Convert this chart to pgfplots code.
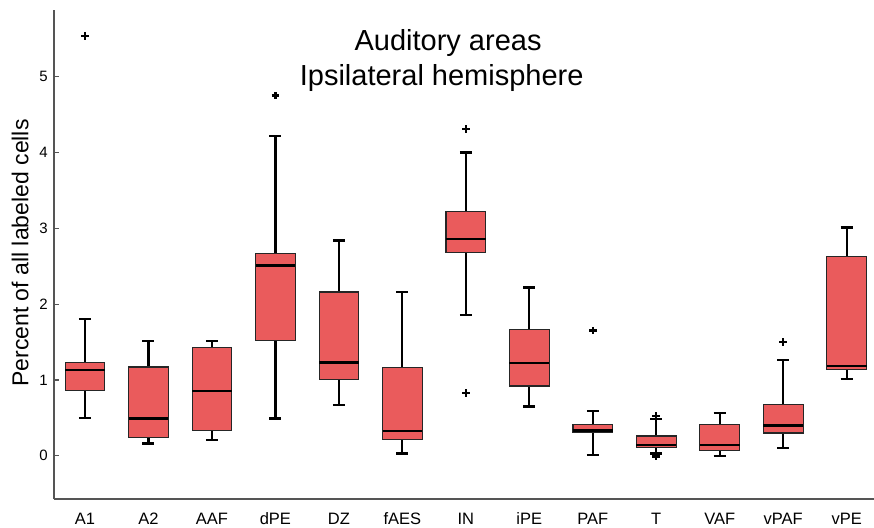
\documentclass[border=0pt]{standalone}
\usepackage{fontspec}
\setmainfont{Liberation Sans}
\usepackage{pgfplots}
\pgfplotsset{compat=1.18}
\usepgfplotslibrary{statistics}
\definecolor{boxred}{RGB}{234,91,92}
\definecolor{spine}{RGB}{85,85,85}

\begin{document}
\begin{tikzpicture}
\path[use as bounding box] (-54pt,-28pt) rectangle (820pt,499pt);
\begin{axis}[
  scale only axis, width=820pt, height=489pt,
  xmin=-0.488, xmax=12.43, ymin=-0.571, ymax=5.88,
  axis x line*=bottom, axis y line*=left,
  axis line style={spine, line width=1.6pt, -},
  xtick={0,...,12},
  xticklabels={A1,A2,AAF,dPE,DZ,fAES,IN,iPE,PAF,T,VAF,vPAF,vPE},
  ytick={0,1,2,3,4,5},
  tick align=inside, major tick length=5pt,
  xtick style={draw=none},
  ytick style={spine, line width=1.2pt},
  /pgf/number format/assume math mode=true,
  xticklabel style={font=\fontsize{16.5}{18}\selectfont, anchor=base, yshift=-25.3pt, inner sep=0pt},
  yticklabel style={font=\fontsize{15}{17}\selectfont, anchor=east, inner sep=0pt, xshift=-6pt},
  ylabel={Percent of all labeled cells},
  ylabel style={font=\fontsize{23}{25}\selectfont, at={(rel axis cs:-0.0313,0.503)}, anchor=base, rotate=0, inner sep=0pt},
  clip=false,
  boxplot/draw direction=y,
  boxplot/box extend=0.625,
  boxplot/whisker extend=0.19,
  boxplot/every box/.style={draw=black!85, line width=1.1pt, fill=boxred},
  boxplot/every whisker/.style={black, line width=2.2pt},
  boxplot/every median/.style={black, line width=2.4pt},
  every axis plot/.append style={black, mark=+, mark size=3.8pt, mark options={line width=2.3pt}},
]
% A1
\addplot[boxplot prepared={draw position=0, lower whisker=0.50, lower quartile=0.86, median=1.13, upper quartile=1.23, upper whisker=1.80}] coordinates {(0,5.54)};
% A2
\addplot[boxplot prepared={draw position=1, lower whisker=0.16, lower quartile=0.24, median=0.49, upper quartile=1.17, upper whisker=1.51}] coordinates {};
% AAF
\addplot[boxplot prepared={draw position=2, lower whisker=0.21, lower quartile=0.33, median=0.85, upper quartile=1.43, upper whisker=1.51}] coordinates {};
% dPE
\addplot[boxplot prepared={draw position=3, lower whisker=0.49, lower quartile=1.52, median=2.51, upper quartile=2.67, upper whisker=4.22}] coordinates {(3,4.75)};
% DZ
\addplot[boxplot prepared={draw position=4, lower whisker=0.67, lower quartile=1.01, median=1.23, upper quartile=2.16, upper whisker=2.84}] coordinates {};
% fAES
\addplot[boxplot prepared={draw position=5, lower whisker=0.03, lower quartile=0.21, median=0.33, upper quartile=1.16, upper whisker=2.16}] coordinates {};
% IN
\addplot[boxplot prepared={draw position=6, lower whisker=1.86, lower quartile=2.68, median=2.86, upper quartile=3.22, upper whisker=4.00}] coordinates {(6,4.31) (6,0.83)};
% iPE
\addplot[boxplot prepared={draw position=7, lower whisker=0.65, lower quartile=0.92, median=1.22, upper quartile=1.66, upper whisker=2.22}] coordinates {};
% PAF
\addplot[boxplot prepared={draw position=8, lower whisker=0.01, lower quartile=0.31, median=0.335, upper quartile=0.41, upper whisker=0.59}] coordinates {(8,1.65)};
% T
\addplot[boxplot prepared={draw position=9, lower whisker=0.03, lower quartile=0.11, median=0.14, upper quartile=0.26, upper whisker=0.48}] coordinates {(9,0.52) (9,-0.01)};
% VAF
\addplot[boxplot prepared={draw position=10, lower whisker=0.00, lower quartile=0.07, median=0.14, upper quartile=0.41, upper whisker=0.56}] coordinates {};
% vPAF
\addplot[boxplot prepared={draw position=11, lower whisker=0.10, lower quartile=0.30, median=0.40, upper quartile=0.68, upper whisker=1.26}] coordinates {(11,1.50)};
% vPE
\addplot[boxplot prepared={draw position=12, lower whisker=1.01, lower quartile=1.14, median=1.18, upper quartile=2.63, upper whisker=3.01}] coordinates {};

\node[anchor=base, font=\fontsize{29}{34}\selectfont] at (axis cs:5.72,5.35) {Auditory areas};
\node[anchor=base, font=\fontsize{29}{34}\selectfont] at (axis cs:5.62,4.88) {Ipsilateral hemisphere};
\end{axis}
\end{tikzpicture}
\end{document}
